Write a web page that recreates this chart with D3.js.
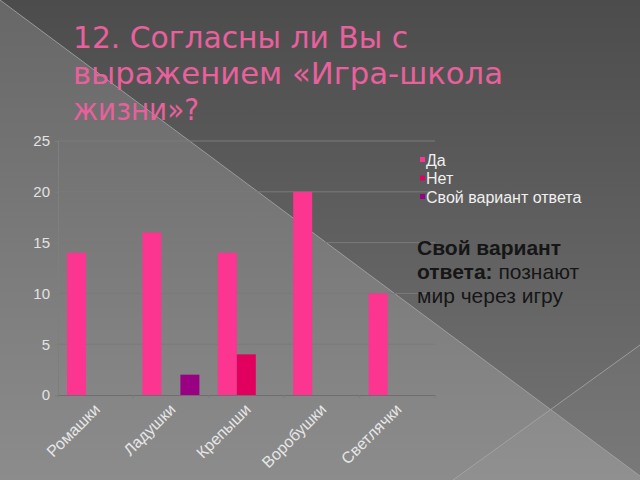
<!DOCTYPE html>
<html>
<head>
<meta charset="utf-8">
<script src="https://cdn.jsdelivr.net/npm/d3@7"></script>
<style>
  html, body { margin: 0; padding: 0; background: #5a5a5a; }
  svg { display: block; }
</style>
</head>
<body>
<svg id="chart" width="640" height="480"></svg>
<script>
// ---- data ----
const categories = ["Ромашки", "Ладушки", "Крепыши", "Воробушки", "Светлячки"];
const seriesNames = ["Да", "Нет", "Свой вариант ответа"];
const valuesDa = [14, 16, 14, 20, 10];
const valuesNet = [0, 0, 4, 0, 0];
const valuesSvoi = [0, 2, 0, 0, 0];
const yTicks = [0, 5, 10, 15, 20, 25];
const titleLines = ["12. Согласны ли Вы с", "выражением «Игра-школа", "жизни»?"];
const noteLines = [
  [{t: "Свой вариант", b: true}],
  [{t: "ответа:", b: true}, {t: " познают", b: false}],
  [{t: "мир через игру", b: false}]
];
const colors = ["#fc3590", "#e2005f", "#9a0082"];

(function () {
const svg = d3.select("#chart");
const W = 640, H = 480;

// ---- background ----
const defs = svg.append("defs");
const g1 = defs.append("linearGradient").attr("id", "bgL").attr("x1", 0).attr("y1", 0).attr("x2", 0).attr("y2", 1);
g1.append("stop").attr("offset", "0%").attr("stop-color", "#676767");
g1.append("stop").attr("offset", "100%").attr("stop-color", "#8c8c8c");
const g2 = defs.append("linearGradient").attr("id", "bgR").attr("x1", 0).attr("y1", 0).attr("x2", 0).attr("y2", 1);
g2.append("stop").attr("offset", "0%").attr("stop-color", "#4c4c4c");
g2.append("stop").attr("offset", "100%").attr("stop-color", "#747474");

svg.append("rect").attr("width", W).attr("height", H).attr("fill", "url(#bgL)");
svg.append("path").attr("d", "M0,0 L640,0 L640,476 Z").attr("fill", "url(#bgR)");
svg.append("path").attr("d", "M453,480 L640,345 L640,480 Z").attr("fill", "#ffffff").attr("opacity", 0.04);
svg.append("line").attr("x1", 0).attr("y1", 0).attr("x2", 640).attr("y2", 476)
  .attr("stroke", "#a8a8a8").attr("stroke-width", 1).attr("opacity", 0.8);
svg.append("line").attr("x1", 453).attr("y1", 480).attr("x2", 640).attr("y2", 345)
  .attr("stroke", "#a8a8a8").attr("stroke-width", 1).attr("opacity", 0.8);

// ---- title ----
const titleWidths = [335, 430, 126];
const titleG = svg.append("g");
titleLines.forEach((s, i) => {
  titleG.append("text")
    .attr("x", 73).attr("y", 48 + i * 36)
    .attr("font-family", "'DejaVu Sans', sans-serif")
    .attr("font-weight", "normal")
    .attr("font-size", 31)
    .attr("fill", "#e8609c")
    .attr("textLength", titleWidths[i])
    .attr("lengthAdjust", "spacingAndGlyphs")
    .text(s);
});

// ---- scales ----
const pLeft = 58, pRight = 435, pTop = 141, pBottom = 395;
const y = d3.scaleLinear().domain([0, 25]).range([pBottom, pTop]);
const x0 = d3.scaleBand().domain(categories).range([pLeft, pRight]).padding(0);
const x1 = d3.scaleBand().domain(seriesNames).range([9, 66]).padding(0);

const seriesValues = [valuesDa, valuesNet, valuesSvoi];

// gridlines
svg.append("g").selectAll("line").data(yTicks.filter(d => d > 0)).join("line")
  .attr("x1", pLeft).attr("x2", pRight)
  .attr("y1", d => y(d)).attr("y2", d => y(d))
  .attr("stroke", "#7a7a7a").attr("stroke-width", 1);

// y axis
const yAxis = d3.axisLeft(y).tickValues(yTicks).tickSize(3).tickPadding(5);
const yg = svg.append("g").attr("transform", `translate(${pLeft},0)`).call(yAxis);
yg.select(".domain").attr("stroke", "#7e7e7e");
yg.selectAll(".tick line").attr("stroke", "#7e7e7e");
yg.selectAll(".tick text")
  .attr("font-family", "'Liberation Sans', Arial, sans-serif")
  .attr("font-size", 15).attr("fill", "#e2e2e2");

// bars
const barsG = svg.append("g");
categories.forEach((c, ci) => {
  seriesNames.forEach((s, si) => {
    const v = seriesValues[si][ci];
    if (v > 0) {
      barsG.append("rect")
        .attr("x", x0(c) + x1(s))
        .attr("y", y(v))
        .attr("width", x1.bandwidth())
        .attr("height", y(0) - y(v))
        .attr("fill", colors[si]);
    }
  });
});

// x axis
const xAxis = d3.axisBottom(x0).tickSize(0).tickFormat("");
const xg = svg.append("g").attr("transform", `translate(0,${pBottom})`).call(xAxis);
xg.select(".domain").attr("stroke", "#6e6e6e");
// boundary ticks
svg.append("g").selectAll("line").data(categories.concat(["_end"])).join("line")
  .attr("x1", (d, i) => pLeft + i * x0.step()).attr("x2", (d, i) => pLeft + i * x0.step())
  .attr("y1", pBottom).attr("y2", pBottom + 3)
  .attr("stroke", "#7a7a7a");

// x labels
svg.append("g").selectAll("text").data(categories).join("text")
  .attr("transform", d => `translate(${x0(d) + x0.bandwidth() / 2 - 2},${pBottom + 8}) rotate(-45)`)
  .attr("text-anchor", "end")
  .attr("dy", "0.65em")
  .attr("font-family", "'Liberation Sans', Arial, sans-serif")
  .attr("font-size", 16)
  .attr("fill", "#e6e6e6")
  .text(d => d);

// legend
const lg = svg.append("g");
seriesNames.forEach((s, i) => {
  const yy = 160 + i * 18.5;
  lg.append("rect").attr("x", 420).attr("y", yy - 3).attr("width", 5).attr("height", 5).attr("fill", colors[i]);
  lg.append("text").attr("x", 426).attr("y", yy + 5.5)
    .attr("font-family", "'Liberation Sans', Arial, sans-serif")
    .attr("font-size", 16).attr("fill", "#f0f0f0")
    .text(s);
});

// note
const ng = svg.append("g");
noteLines.forEach((parts, i) => {
  const t = ng.append("text").attr("x", 417).attr("y", 255 + i * 24)
    .attr("font-family", "'Liberation Sans', Arial, sans-serif")
    .attr("font-size", 21).attr("fill", "#161616");
  parts.forEach(p => {
    t.append("tspan").attr("font-weight", p.b ? "bold" : "normal").text(p.t);
  });
});
})();
</script>
</body>
</html>
